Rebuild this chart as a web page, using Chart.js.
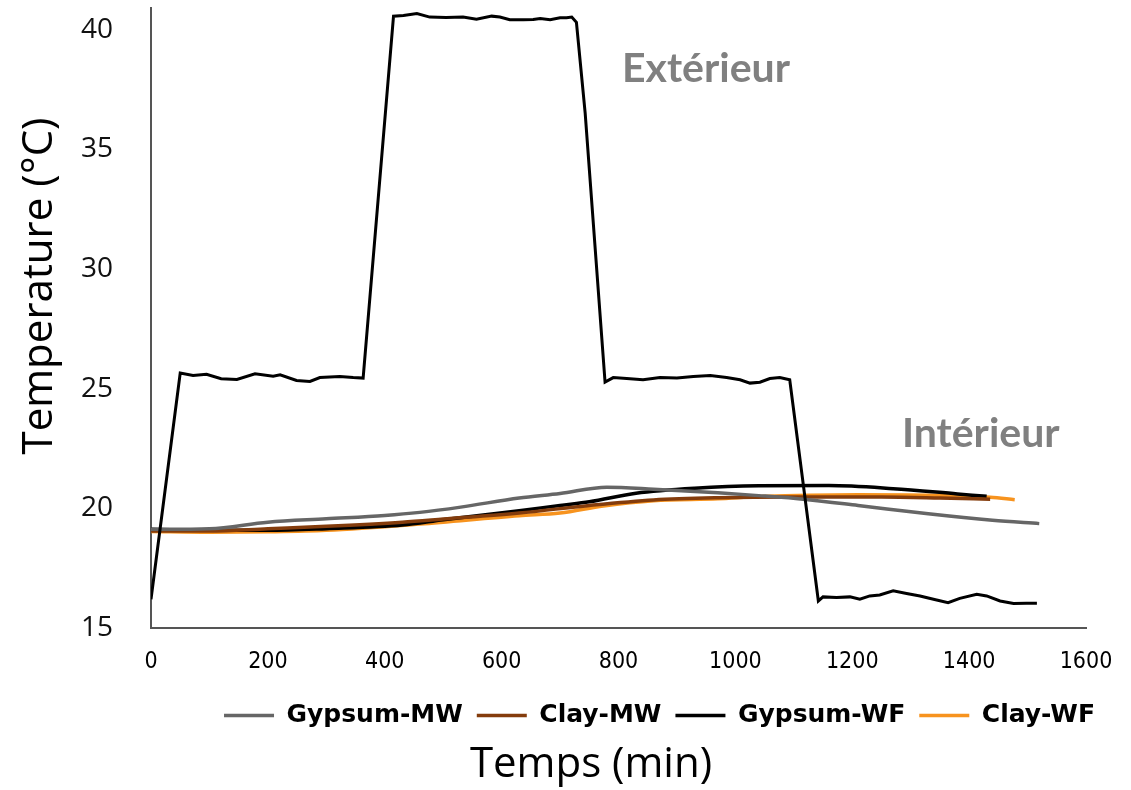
<!DOCTYPE html>
<html>
<head>
<meta charset="utf-8">
<script src="https://cdn.jsdelivr.net/npm/chart.js@4.4.1/dist/chart.umd.min.js"></script>
<style>
  html, body { margin: 0; padding: 0; background: #fff; }
  #wrap { width: 1131px; height: 790px; }
</style>
</head>
<body>
<div id="wrap"><canvas id="canvas" width="1131" height="790"></canvas></div>
<script>
// temps (min) et temperature exterieure
var extTime = [0, 50, 72, 95, 120, 147, 178, 209, 221, 249, 272, 289, 323, 346, 363,
  415, 432, 455, 477, 505, 534, 557, 583, 597, 614, 637, 654, 666, 683, 700, 711, 720, 728,
  743, 777, 791, 814, 842, 871, 900, 928, 957, 985, 1008, 1025, 1042, 1059, 1076, 1093,
  1142, 1150, 1173, 1196, 1213, 1230, 1247, 1270, 1293, 1316, 1339, 1364, 1384, 1413, 1430, 1453, 1476, 1498, 1516];
var extTemp = [16.2, 25.65, 25.55, 25.6, 25.41, 25.38, 25.62, 25.52, 25.58, 25.34, 25.3, 25.46, 25.51, 25.46, 25.44,
  40.56, 40.59, 40.67, 40.52, 40.5, 40.52, 40.43, 40.56, 40.52, 40.41, 40.41, 40.42, 40.46, 40.41, 40.49, 40.49, 40.52, 40.3,
  36.5, 25.27, 25.46, 25.42, 25.37, 25.46, 25.44, 25.51, 25.55, 25.46, 25.37, 25.23, 25.27, 25.42, 25.46, 25.37,
  16.13, 16.3, 16.27, 16.3, 16.2, 16.34, 16.38, 16.55, 16.44, 16.34, 16.2, 16.06, 16.24, 16.41, 16.34, 16.13, 16.02, 16.03, 16.03];

// interieur
var gypsumMwTime = [0, 100, 200, 300, 400, 460, 530, 630, 700, 780, 860, 970, 1040, 1120, 1210, 1330, 1440, 1520];
var gypsumMwTemp = [19.12, 19.15, 19.42, 19.56, 19.7, 19.83, 20.05, 20.43, 20.62, 20.88, 20.8, 20.65, 20.53, 20.37, 20.12, 19.77, 19.5, 19.36];

var clayMwTime = [0, 100, 200, 300, 430, 500, 630, 750, 860, 970, 1100, 1250, 1350, 1436];
var clayMwTemp = [19.05, 19.05, 19.15, 19.25, 19.42, 19.55, 19.8, 20.12, 20.35, 20.44, 20.47, 20.47, 20.43, 20.38];

var gypsumWfTime = [0, 100, 200, 300, 430, 500, 630, 700, 750, 830, 930, 1040, 1160, 1270, 1380, 1430];
var gypsumWfTemp = [19.12, 19.08, 19.08, 19.15, 19.3, 19.52, 19.9, 20.12, 20.27, 20.63, 20.84, 20.94, 20.95, 20.82, 20.6, 20.5];

var clayWfTime = [0, 100, 200, 300, 460, 630, 700, 774, 860, 970, 1040, 1210, 1330, 1436, 1478];
var clayWfTemp = [19.03, 19.0, 19.02, 19.08, 19.34, 19.69, 19.8, 20.1, 20.32, 20.4, 20.49, 20.57, 20.55, 20.46, 20.36];

var xTicks = [0, 200, 400, 600, 800, 1000, 1200, 1400, 1600];
var yTicks = [15, 20, 25, 30, 35, 40];

function toPoints(t, v) {
    var pts = [];
    for (var i = 0; i < t.length; i++) pts.push({x: t[i], y: v[i]});
    return pts;
}

function lineSet(label, t, v, color, width, smooth) {
    return {
        label: label,
        data: toPoints(t, v),
        borderColor: color,
        backgroundColor: color,
        borderWidth: width,
        pointRadius: 0,
        pointStyle: 'line',
        tension: smooth ? 0.4 : 0,
        cubicInterpolationMode: smooth ? 'monotone' : 'default',
        fill: false
    };
}

var dataSets = [
    lineSet('Extérieur', extTime, extTemp, '#000000', 3, false),
    lineSet('Gypsum-MW', gypsumMwTime, gypsumMwTemp, '#666666', 3.5, true),
    lineSet('Clay-MW', clayMwTime, clayMwTemp, '#843c0c', 3.5, true),
    lineSet('Gypsum-WF', gypsumWfTime, gypsumWfTemp, '#000000', 3.5, true),
    lineSet('Clay-WF', clayWfTime, clayWfTemp, '#f7931e', 3.5, true)
];

// textes : titres d'axes et annotations
var textPlugin = {
    id: 'textLabels',
    afterDraw: function(chart) {
        var ctx = chart.ctx, x = chart.scales.x, y = chart.scales.y;
        ctx.save();
        ctx.fillStyle = '#808080';
        ctx.font = 'bold 41px Lato';
        ctx.textAlign = 'left';
        ctx.textBaseline = 'alphabetic';
        ctx.fillText('Extérieur', x.getPixelForValue(806), y.getPixelForValue(37.8));
        ctx.fillText('Intérieur', x.getPixelForValue(1285), y.getPixelForValue(22.55));

        ctx.fillStyle = '#000000';
        ctx.font = '42px "Open Sans"';
        ctx.textAlign = 'center';
        ctx.fillText('Temps (min)', 591, 777);
        ctx.translate(52, 286);
        ctx.rotate(-Math.PI / 2);
        ctx.fillText('Temperature (°C)', 0, 0);
        ctx.restore();
    }
};

var ctx = document.getElementById('canvas').getContext('2d');
var myChart = new Chart(ctx, {
    type: 'line',
    data: { datasets: dataSets },
    plugins: [textPlugin],
    options: {
        responsive: false,
        animation: false,
        layout: { padding: { top: 8, right: 22, bottom: 52, left: 0 } },
        plugins: {
            tooltip: { enabled: false },
            legend: {
                position: 'bottom',
                align: 'end',
                labels: {
                    usePointStyle: true,
                    pointStyleWidth: 50,
                    padding: 14,
                    color: '#000',
                    font: { family: 'DejaVu Sans', size: 25, weight: 'bold' },
                    filter: function(item) { return item.text !== 'Extérieur'; }
                }
            }
        },
        scales: {
            x: {
                type: 'linear',
                min: 0,
                max: 1600,
                grid: { display: false, drawTicks: false },
                border: { display: true, color: '#555555', width: 2 },
                afterBuildTicks: function(scale) {
                    scale.ticks = xTicks.map(function(v) { return {value: v}; });
                },
                ticks: {
                    padding: 20,
                    color: '#000',
                    maxRotation: 0,
                    font: { family: '"DejaVu Sans Condensed"', size: 23 },
                    callback: function(v) { return String(v); }
                },
                afterFit: function(scale) {
                    scale.height = 61;
                    scale.paddingLeft = 0;
                    scale.paddingRight = 45;
                }
            },
            y: {
                min: 15,
                max: 40.9,
                grid: { display: false, drawTicks: false },
                border: { display: true, color: '#555555', width: 2 },
                afterBuildTicks: function(scale) {
                    scale.ticks = yTicks.map(function(v) { return {value: v}; });
                },
                ticks: {
                    padding: 38,
                    color: '#111',
                    font: { family: '"Open Sans"', size: 28 }
                },
                afterFit: function(scale) {
                    scale.width = 151;
                    scale.paddingTop = 0;
                    scale.paddingBottom = 0;
                }
            }
        }
    }
});
</script>
</body>
</html>
